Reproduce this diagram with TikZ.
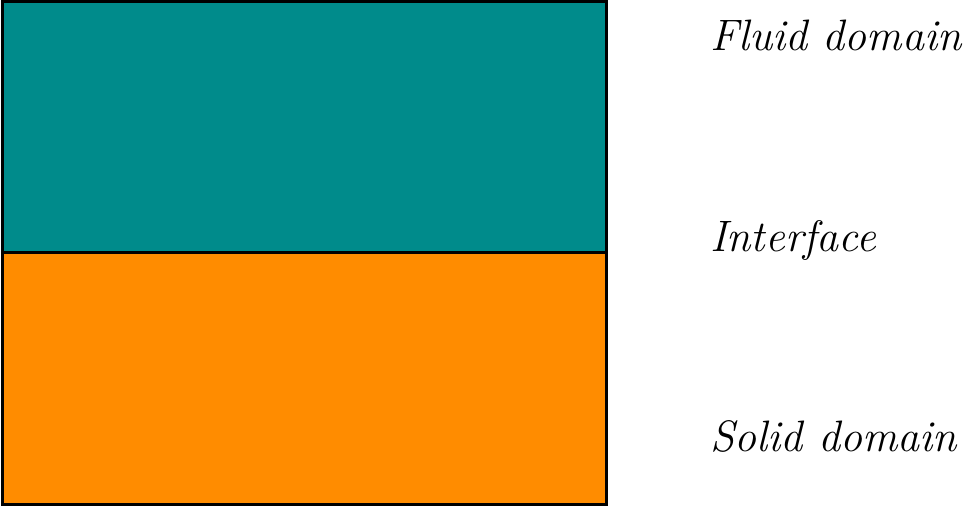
\documentclass[tikz,border=0pt]{standalone}
\usepackage{fix-cm}
\begin{document}
\begin{tikzpicture}[x=1pt,y=1pt,
  region/.style={draw=black,line width=3pt},
  lbl/.style={anchor=base west,inner sep=0pt,font=\fontsize{44}{52}\selectfont\itshape}]
\definecolor{fluidc}{RGB}{0,139,139}
\definecolor{solidc}{RGB}{255,140,0}
\useasboundingbox (0,0) rectangle (972,508);
\path[region,fill=fluidc] (2,255) rectangle (606,506);
\path[region,fill=solidc] (2,3) rectangle (606,255);
\node[lbl] (fluid) at (710,457) {Fluid domain};
\node[lbl] (iface) at (710,256) {Interface};
\node[lbl] (solid) at (710,56) {Solid domain};
\end{tikzpicture}
\end{document}
